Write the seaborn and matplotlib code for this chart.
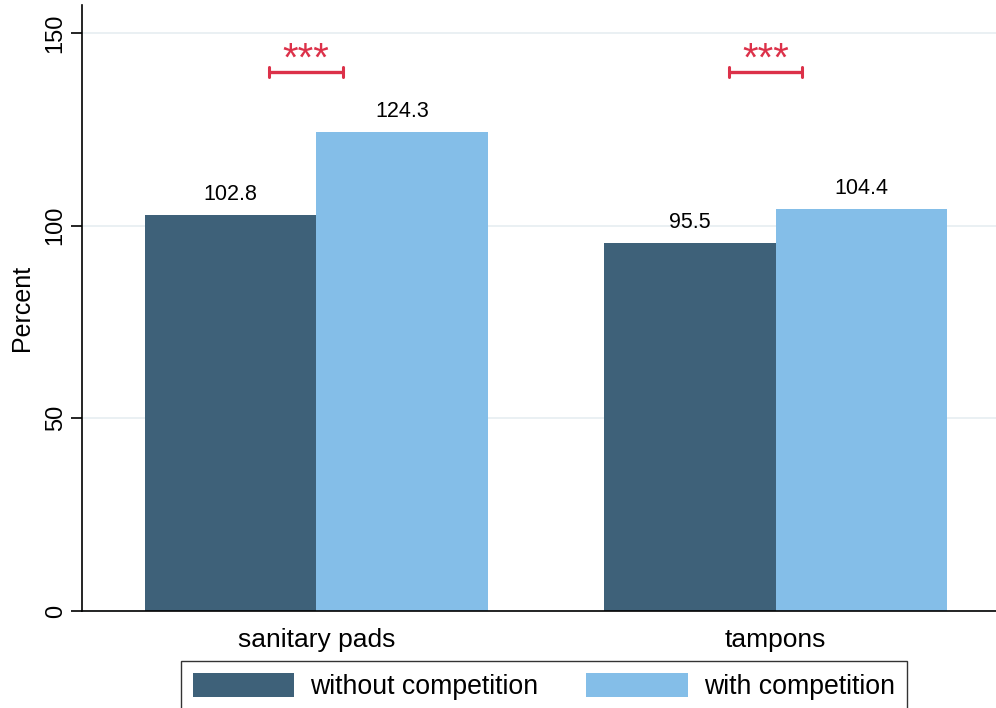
import matplotlib
matplotlib.use("Agg")
import matplotlib.pyplot as plt
import seaborn as sns
import pandas as pd

products = ["sanitary pads", "tampons"]
groups = ["without competition", "with competition"]
without_vals = [102.8, 95.5]
with_vals = [124.3, 104.4]
sig_labels = ["***", "***"]

df = pd.DataFrame({
    "product": products * 2,
    "group": [groups[0]] * 2 + [groups[1]] * 2,
    "value": without_vals + with_vals,
})

sns.set_theme(style="white")
plt.rcParams["font.family"] = ["Liberation Sans", "DejaVu Sans"]
plt.rcParams["text.color"] = "black"
plt.rcParams["axes.labelcolor"] = "black"
plt.rcParams["xtick.color"] = "black"
plt.rcParams["ytick.color"] = "black"

fig = plt.figure(figsize=(9.96, 7.08), dpi=100)
ax = fig.add_axes([0.0823, 0.137, 0.9177, 0.856])

palette = {groups[0]: "#3e6179", groups[1]: "#84bee8"}
sns.barplot(data=df, x="product", y="value", hue="group", order=products,
            hue_order=groups, palette=palette, width=0.746, saturation=1,
            ax=ax, legend=False, linewidth=0)

ax.set_ylim(0, 157.3)
ax.set_xlim(-0.51, 1.48)
ax.set_yticks([0, 50, 100, 150])
ax.set_yticklabels(["0", "50", "100", "150"], rotation=90, va="center", fontsize=17)
ax.set_ylabel("Percent", fontsize=18, labelpad=8)
ax.set_xlabel("")
ax.tick_params(axis="x", labelsize=19, length=0, pad=12)
ax.tick_params(axis="y", length=8, width=1.2, color="black", left=True, pad=3)
ax.grid(axis="y", color="#e6eef1", linewidth=1.2)
ax.set_axisbelow(True)
for s in ["top", "right"]:
    ax.spines[s].set_visible(False)
for s in ["left", "bottom"]:
    ax.spines[s].set_color("black")
    ax.spines[s].set_linewidth(1.2)

for cont in ax.containers:
    ax.bar_label(cont, fmt="%.1f", padding=7, fontsize=15.5)

red = "#dc3149"
for i, lab in enumerate(sig_labels):
    xc = i - 0.022
    hw = 0.08
    y = 140
    ax.plot([xc - hw, xc + hw], [y, y], color=red, lw=2.4, solid_capstyle="butt")
    ax.plot([xc - hw, xc - hw], [y - 1.3, y + 1.3], color=red, lw=2.2)
    ax.plot([xc + hw, xc + hw], [y - 1.3, y + 1.3], color=red, lw=2.2)
    ax.text(xc, 140.3, lab, color=red, ha="center", va="baseline", fontsize=29)

from matplotlib.patches import Patch
handles = [Patch(facecolor=palette[g], edgecolor="none") for g in groups]
leg = fig.legend(handles, groups, loc="upper center", bbox_to_anchor=(0.546, 0.066),
                 ncol=2, fontsize=19.2, frameon=True, fancybox=False,
                 handlelength=3.8, handleheight=1.0, columnspacing=1.8,
                 handletextpad=0.6, borderpad=0.45, borderaxespad=0)
leg.get_frame().set_edgecolor("black")
leg.get_frame().set_linewidth(1.0)

fig.savefig("out.png", dpi=100)
